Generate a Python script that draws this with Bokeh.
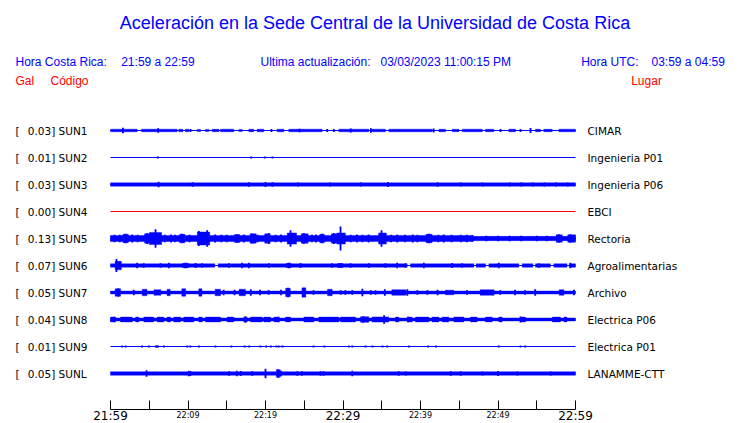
from bokeh.plotting import figure
from bokeh.layouts import column
from bokeh.models import Range1d, LinearAxis, FixedTicker, Label, LabelSet, ColumnDataSource
from bokeh.core.properties import value
from bokeh.embed import file_html
from bokeh.resources import INLINE

BLUE = "#0000ff"
RED = "#ff0000"

# ---------------- data ----------------
codes = ["SUN1", "SUN2", "SUN3", "SUN4", "SUN5", "SUN6", "SUN7", "SUN8", "SUN9", "SUNL"]
places = ["CIMAR", "Ingenieria P01", "Ingenieria P06", "EBCI", "Rectoria",
          "Agroalimentarias", "Archivo", "Electrica P06", "Electrica P01", "LANAMME-CTT"]
peak_gal = [0.03, 0.01, 0.03, 0.00, 0.13, 0.07, 0.05, 0.04, 0.01, 0.05]
trace_colors = [BLUE, BLUE, BLUE, RED, BLUE, BLUE, BLUE, BLUE, BLUE, BLUE]

# continuous band half-amplitude (Gal) over the whole hour
band_gal = [0.0, 0.0, 0.018, 0.0, 0.023, 0.0, 0.016, 0.016, 0.0, 0.019]

# blocks of activity: (start minute, end minute, half-amplitude Gal); minute 0 = 21:59
sun1_blocks = [(0.0, 3.44, 0.014), (4.0, 8.6, 0.014), (8.82, 9.33, 0.014), (9.68, 10.11, 0.014),
               (11.18, 11.61, 0.012), (12.26, 12.69, 0.012), (13.12, 13.98, 0.013), (14.19, 15.91, 0.014),
               (16.56, 16.99, 0.012), (17.85, 18.49, 0.014), (18.92, 19.78, 0.014), (21.51, 22.37, 0.014),
               (23.01, 27.31, 0.014), (29.46, 33.33, 0.014), (33.55, 35.48, 0.014), (35.91, 41.51, 0.014),
               (42.37, 43.23, 0.013), (44.09, 44.95, 0.013), (45.38, 47.96, 0.014), (48.39, 49.46, 0.013),
               (51.4, 52.26, 0.014), (54.84, 55.48, 0.013), (55.91, 56.99, 0.013), (57.85, 60.0, 0.014)]
sun1_spikes = [(1.6, 0.03), (6.15, 0.024), (10.32, 0.017), (20.77, 0.017), (24.4, 0.02), (27.96, 0.016),
               (28.82, 0.016), (31.0, 0.022), (33.6, 0.024), (41.7, 0.022), (50.32, 0.016),
               (52.9, 0.016), (54.2, 0.027)]

sun2_blocks = []
sun2_spikes = [(6.1, 0.012), (18.15, 0.01), (19.9, 0.01), (20.9, 0.01)]

sun3_blocks = []
sun3_spikes = [(6.2, 0.03), (10.6, 0.025), (17.85, 0.025), (20.0, 0.028), (20.9, 0.025), (24.2, 0.022),
               (28.3, 0.022), (32.3, 0.022), (35.8, 0.028), (42.2, 0.025), (45.2, 0.022), (48.0, 0.022),
               (51.5, 0.021), (53.0, 0.021), (54.5, 0.021), (56.0, 0.021), (57.5, 0.021), (59.0, 0.021)]

sun4_blocks = []
sun4_spikes = []

sun5_blocks = [(0.0, 46.8, 0.033), (1.6, 2.3, 0.045), (4.4, 5.0, 0.05), (5.0, 6.6, 0.065), (8.9, 9.6, 0.045),
               (11.2, 12.8, 0.07), (16.0, 16.7, 0.042), (18.0, 18.8, 0.05), (19.9, 20.6, 0.05),
               (22.8, 24.0, 0.06), (24.6, 25.5, 0.05), (27.0, 27.6, 0.045), (28.5, 29.2, 0.05),
               (29.2, 30.3, 0.06), (34.6, 35.6, 0.06), (40.7, 41.5, 0.045), (57.5, 58.3, 0.04),
               (59.0, 60.0, 0.04)]
sun5_spikes = [(1.94, 0.05), (4.73, 0.06), (5.81, 0.10), (9.25, 0.05), (11.4, 0.08), (12.47, 0.09),
               (16.34, 0.045), (18.28, 0.055), (20.43, 0.06), (23.23, 0.09), (24.95, 0.06), (27.31, 0.05),
               (28.82, 0.06), (29.68, 0.13), (34.97, 0.09), (41.08, 0.05), (46.67, 0.035),
               (57.85, 0.045), (59.35, 0.045),
               (0.5, 0.04), (1.2, 0.04), (2.8, 0.042), (3.5, 0.04), (7.0, 0.04), (7.8, 0.042), (8.3, 0.04),
               (10.2, 0.04), (13.5, 0.042), (14.3, 0.04), (15.0, 0.04), (17.2, 0.042), (19.0, 0.04),
               (21.3, 0.04), (22.0, 0.042), (26.0, 0.04), (26.5, 0.042), (31.0, 0.04), (31.8, 0.042),
               (32.5, 0.04), (33.3, 0.042), (36.2, 0.04), (37.0, 0.042), (38.0, 0.04), (39.0, 0.042),
               (39.6, 0.04), (42.3, 0.04), (43.0, 0.042), (44.0, 0.04), (45.2, 0.04), (46.0, 0.04),
               (48.5, 0.03), (50.0, 0.03), (51.5, 0.03), (53.0, 0.03), (55.0, 0.03), (56.3, 0.03)]

sun6_blocks = [(0.0, 13.46, 0.018), (13.89, 38.28, 0.018), (38.71, 46.88, 0.018), (47.18, 48.39, 0.018),
               (48.82, 52.69, 0.018), (53.12, 54.5, 0.018), (54.84, 56.77, 0.018), (57.2, 58.9, 0.018),
               (59.2, 60.0, 0.018), (0.6, 1.4, 0.045), (9.3, 10.1, 0.024), (22.7, 23.3, 0.024),
               (29.3, 30.0, 0.022)]
sun6_spikes = [(0.77, 0.07), (3.44, 0.03), (4.3, 0.025), (6.45, 0.025), (7.53, 0.03), (9.68, 0.03),
               (10.97, 0.028), (11.83, 0.025), (15.27, 0.025), (16.99, 0.03), (17.85, 0.03), (20.43, 0.025),
               (23.01, 0.03), (24.52, 0.028), (28.6, 0.025), (29.68, 0.025), (30.97, 0.025), (33.33, 0.025),
               (35.48, 0.025), (36.99, 0.03), (38.06, 0.025), (40.43, 0.03), (44.09, 0.028), (45.38, 0.025),
               (50.1, 0.03), (55.27, 0.025), (59.35, 0.03)]

sun7_blocks = [(0.6, 1.3, 0.04), (4.1, 4.7, 0.035), (5.6, 6.5, 0.03), (7.3, 7.7, 0.035), (9.2, 9.7, 0.04),
               (11.4, 11.8, 0.04), (13.5, 14.2, 0.035), (16.6, 17.4, 0.035), (22.6, 23.2, 0.045),
               (24.7, 25.2, 0.05), (28.0, 28.6, 0.035), (36.3, 38.1, 0.03), (43.2, 44.3, 0.025),
               (47.7, 49.5, 0.03), (57.9, 58.5, 0.03)]
sun7_spikes = [(1.0, 0.045), (3.0, 0.03), (14.6, 0.03), (16.0, 0.03), (18.1, 0.035), (19.3, 0.03),
               (20.4, 0.025), (22.0, 0.03), (22.9, 0.05), (26.2, 0.025), (29.7, 0.025), (30.3, 0.025),
               (31.2, 0.025), (32.5, 0.04), (33.6, 0.025), (34.2, 0.025), (35.4, 0.035), (38.3, 0.035),
               (39.6, 0.025), (40.9, 0.025), (42.2, 0.03), (46.0, 0.025), (50.3, 0.025), (52.2, 0.03),
               (53.5, 0.025), (54.8, 0.035), (59.8, 0.03)]

sun8_blocks = [(0.0, 0.65, 0.026), (1.29, 2.8, 0.026), (3.23, 3.66, 0.026), (4.3, 5.59, 0.026),
               (6.02, 6.88, 0.026), (7.31, 7.74, 0.026), (8.17, 9.03, 0.026), (9.46, 10.75, 0.026),
               (11.4, 11.83, 0.026), (12.26, 14.2, 0.026), (15.05, 15.91, 0.026), (17.2, 17.63, 0.026),
               (18.06, 19.57, 0.026), (19.78, 20.65, 0.026), (21.08, 21.72, 0.026), (22.58, 23.23, 0.026),
               (24.95, 26.24, 0.026), (26.88, 29.46, 0.026), (29.68, 31.61, 0.026), (32.26, 33.33, 0.03),
               (33.76, 35.91, 0.028), (36.77, 37.2, 0.026), (38.28, 38.92, 0.026), (39.35, 41.08, 0.026),
               (41.5, 42.37, 0.026), (42.8, 43.66, 0.026), (44.3, 45.59, 0.026), (46.45, 47.31, 0.026),
               (48.39, 49.25, 0.026), (50.1, 50.54, 0.026), (52.9, 53.55, 0.026), (57.0, 58.06, 0.026),
               (58.5, 58.9, 0.026)]
sun8_spikes = [(0.5, 0.03), (17.4, 0.035), (21.7, 0.03), (32.6, 0.035), (35.3, 0.045), (38.4, 0.03),
               (52.9, 0.032)]

sun9_blocks = [(5.8, 6.2, 0.01)]
sun9_spikes = [(1.5, 0.011), (1.94, 0.011), (4.09, 0.01), (4.95, 0.011), (6.88, 0.01), (9.9, 0.011),
               (10.3, 0.01), (11.4, 0.01), (13.55, 0.011), (15.6, 0.011), (17.3, 0.011), (17.9, 0.01),
               (19.35, 0.01), (20.1, 0.011), (20.7, 0.01), (21.4, 0.011), (21.7, 0.01), (22.2, 0.011),
               (26.2, 0.01), (27.6, 0.01), (30.75, 0.011), (31.2, 0.011), (32.9, 0.01), (33.8, 0.01),
               (35.1, 0.011), (35.7, 0.01), (38.5, 0.01), (41.0, 0.01), (42.0, 0.01), (50.1, 0.011),
               (52.9, 0.01), (53.5, 0.01)]

sunl_blocks = [(21.4, 21.9, 0.04)]
sunl_spikes = [(4.65, 0.035), (10.1, 0.03), (10.3, 0.028), (15.3, 0.025), (16.3, 0.03), (16.8, 0.028),
               (18.3, 0.025), (20.0, 0.05), (21.6, 0.045), (22.0, 0.03), (24.1, 0.025), (24.7, 0.025),
               (27.1, 0.025), (27.5, 0.025), (31.2, 0.03), (37.2, 0.024), (38.1, 0.022), (43.9, 0.025),
               (45.2, 0.025), (48.0, 0.022), (50.0, 0.028), (52.5, 0.022), (56.8, 0.022)]

station_blocks = [sun1_blocks, sun2_blocks, sun3_blocks, sun4_blocks, sun5_blocks,
                  sun6_blocks, sun7_blocks, sun8_blocks, sun9_blocks, sunl_blocks]
station_spikes = [sun1_spikes, sun2_spikes, sun3_spikes, sun4_spikes, sun5_spikes,
                  sun6_spikes, sun7_spikes, sun8_spikes, sun9_spikes, sunl_spikes]

tick_minutes = [0, 5, 10, 15, 20, 25, 30, 35, 40, 45, 50, 55, 60]
big_tick_minutes = [0, 30, 60]
big_tick_labels = ["21:59", "22:29", "22:59"]
small_tick_minutes = [10, 20, 40, 50]
small_tick_labels = ["22:09", "22:19", "22:39", "22:49"]

title_text = "Aceleración en la Sede Central de la Universidad de Costa Rica"
local_range = "21:59 a 22:59"
utc_range = "03:59 a 04:59"
updated_at = "03/03/2023 11:00:15 PM"

# ---------------- layout (pixels) ----------------
PX_PER_MIN = 7.75
ROW_PX = 27.0
GAIN = 93.0 / ROW_PX          # rows per Gal
W = 740
TOP_H = 410                   # main figure height (frame 0..409, axis line at 409)
BOT_H = 13                    # strip for the time labels
X0 = 110                      # px of minute 0
ROW0 = 130                    # px of first trace
AXIS_Y = 409


def tx(px):
    return (px - X0) / PX_PER_MIN


def ry(py):
    return (py - ROW0) / ROW_PX


xr = Range1d(-X0 / PX_PER_MIN, (W - X0) / PX_PER_MIN)

p = figure(width=W, height=TOP_H, output_backend="svg", toolbar_location=None,
           x_range=xr, y_range=Range1d((AXIS_Y - ROW0) / ROW_PX, -ROW0 / ROW_PX),
           x_axis_type=None, y_axis_type=None,
           min_border_left=0, min_border_right=0, min_border_top=0,
           min_border_bottom=TOP_H - AXIS_Y)
p.outline_line_color = None
p.background_fill_color = "white"
p.border_fill_color = "white"

axis = LinearAxis(ticker=FixedTicker(ticks=tick_minutes, minor_ticks=[]), bounds=(0, 60))
axis.major_tick_in = 9
axis.major_tick_out = 0
axis.major_label_text_font_size = "0px"
axis.major_label_standoff = 0
axis.major_label_overrides = {m: "" for m in tick_minutes}
axis.axis_line_color = "black"
axis.major_tick_line_color = "black"
axis.axis_line_width = 1
p.add_layout(axis, "below")

# ---------------- traces ----------------
rows = list(range(len(codes)))

cl = dict(x0=[], x1=[], y=[], color=[])
for i in rows:
    cl["x0"].append(0); cl["x1"].append(60); cl["y"].append(i); cl["color"].append(trace_colors[i])
p.segment(x0="x0", x1="x1", y0="y", y1="y", line_color="color", line_width=1,
          source=ColumnDataSource(cl))

q = dict(left=[], right=[], top=[], bottom=[], color=[])
for i in rows:
    if band_gal[i] > 0:
        q["left"].append(0); q["right"].append(60)
        q["top"].append(i - band_gal[i] * GAIN); q["bottom"].append(i + band_gal[i] * GAIN)
        q["color"].append(trace_colors[i])
    for (t0, t1, a) in station_blocks[i]:
        q["left"].append(t0); q["right"].append(t1)
        q["top"].append(i - a * GAIN); q["bottom"].append(i + a * GAIN)
        q["color"].append(trace_colors[i])
p.quad(left="left", right="right", top="top", bottom="bottom", fill_color="color",
       line_color="color", line_width=0.4, source=ColumnDataSource(q))

s = dict(x=[], y0=[], y1=[], color=[])
for i in rows:
    for (t, a) in station_spikes[i]:
        s["x"].append(t); s["y0"].append(i - a * GAIN); s["y1"].append(i + a * GAIN)
        s["color"].append(trace_colors[i])
p.segment(x0="x", x1="x", y0="y0", y1="y1", line_color="color", line_width=1.8,
          source=ColumnDataSource(s))

# ---------------- station labels ----------------
lab = ColumnDataSource(dict(
    row=rows,
    br=["["] * len(codes),
    left=[f"{g:.2f}] {c}" for g, c in zip(peak_gal, codes)],
    place=places,
))
for col, px in (("br", 15), ("left", 27.3), ("place", 587)):
    p.add_layout(LabelSet(x=value(tx(px)), y="row", text=col, source=lab,
                          text_font=value("DejaVu Sans"), text_font_size=value("10.5px"),
                          text_color=value("black"), text_align=value("left"),
                          text_baseline=value("middle")))


# ---------------- header texts ----------------
def head(text, px, py, color, size="12px", align="left"):
    p.add_layout(Label(x=tx(px), y=ry(py), text=text, text_font="Liberation Sans",
                       text_font_size=size, text_color=color, text_align=align,
                       text_baseline="middle"))


head(title_text, 374.5, 22, BLUE, size="18px", align="center")
head("Hora Costa Rica:", 15, 61, BLUE)
head(local_range, 120.7, 61, BLUE)
head("Ultima actualización:", 260, 61, BLUE)
head(updated_at, 380, 61, BLUE)
head("Hora UTC:", 580.7, 61, BLUE)
head(utc_range, 651, 61, BLUE)
head("Gal", 15, 80.5, RED)
head("Código", 50, 80.5, RED)
head("Lugar", 630.7, 80.5, RED)

# ---------------- time tick labels (strip below the axis) ----------------
b = figure(width=W, height=BOT_H, output_backend="svg", toolbar_location=None,
           x_range=xr, y_range=Range1d(BOT_H, 0),
           x_axis_type=None, y_axis_type=None,
           min_border_left=0, min_border_right=0, min_border_top=0, min_border_bottom=0)
b.outline_line_color = None
b.background_fill_color = "white"
b.border_fill_color = "white"
b.add_layout(LabelSet(x="m", y=value(415.3 - TOP_H), text="t",
                      source=ColumnDataSource(dict(m=big_tick_minutes, t=big_tick_labels)),
                      text_font=value("DejaVu Sans"), text_font_size=value("12px"),
                      text_color=value("black"), text_align=value("center"),
                      text_baseline=value("middle")))
b.add_layout(LabelSet(x="m", y=value(414.5 - TOP_H), text="t",
                      source=ColumnDataSource(dict(m=small_tick_minutes, t=small_tick_labels)),
                      text_font=value("DejaVu Sans"), text_font_size=value("8px"),
                      text_color=value("black"), text_align=value("center"),
                      text_baseline=value("middle")))

layout = column(p, b, spacing=0)
open("out.html", "w").write(file_html(layout, INLINE))
